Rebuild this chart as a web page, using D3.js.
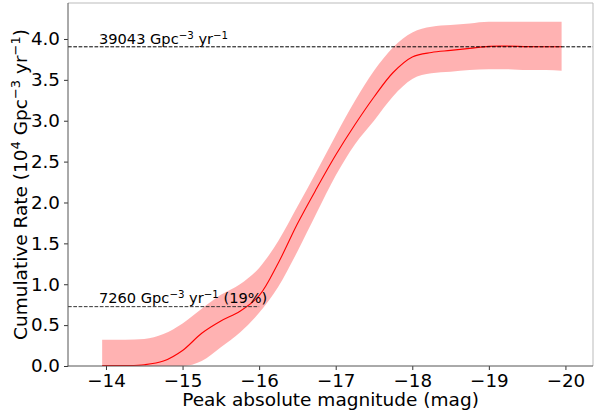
<!DOCTYPE html>
<html>
<head>
<meta charset="utf-8">
<script src="https://cdn.jsdelivr.net/npm/d3@7"></script>
<style>
  html, body { margin: 0; padding: 0; background: #fff; }
  svg { display: block; }
  text { font-family: "DejaVu Sans", sans-serif; fill: #000; }
</style>
</head>
<body>
<svg id="chart" width="594" height="417"></svg>
<script>
// ---- data ----
const mags   = [-13.95, -14.25, -14.5, -14.75, -15.0, -15.25, -15.5, -15.75, -16.0, -16.25, -16.5, -16.75, -17.0, -17.25, -17.5, -17.75, -18.0, -18.25, -18.5, -18.75, -19.0, -19.25, -19.5, -19.75, -19.95];
const median = [0.005, 0.005, 0.015, 0.06, 0.19, 0.40, 0.55, 0.67, 0.86, 1.26, 1.74, 2.17, 2.58, 2.95, 3.29, 3.59, 3.78, 3.835, 3.86, 3.885, 3.91, 3.912, 3.906, 3.905, 3.904];
const upper  = [0.32, 0.32, 0.33, 0.39, 0.52, 0.70, 0.87, 1.00, 1.20, 1.53, 1.95, 2.38, 2.82, 3.24, 3.61, 3.90, 4.08, 4.15, 4.17, 4.19, 4.21, 4.21, 4.21, 4.21, 4.21];
const lower  = [0, 0, 0, 0, 0, 0.06, 0.23, 0.41, 0.65, 0.97, 1.40, 1.87, 2.33, 2.71, 3.00, 3.30, 3.51, 3.58, 3.60, 3.62, 3.63, 3.63, 3.62, 3.62, 3.61];
const xTicks = [-14, -15, -16, -17, -18, -19, -20];
const yTicks = [0.0, 0.5, 1.0, 1.5, 2.0, 2.5, 3.0, 3.5, 4.0];
const totalRate = 3.9043;     // 39043 Gpc^-3 yr^-1
const partRate = 0.726;       // 7260 Gpc^-3 yr^-1
const partEdge = -16.0;
const totalLabel = ["39043 Gpc", "−3", " yr", "−1", ""];
const partLabel  = ["7260 Gpc", "−3", " yr", "−1", " (19%)"];

// ---- layout ----
const svg = d3.select("#chart");
const pL = 68, pR = 593, pT = 3, pB = 366;
const x = d3.scaleLinear().domain([-13.504, -20.36]).range([pL, pR]);
const y = d3.scaleLinear().domain([0, 4.44]).range([pB, pT]);
const minus = s => s.replace("-", "−");

svg.append("defs").append("clipPath").attr("id", "plotclip")
  .append("rect").attr("x", pL).attr("y", pT).attr("width", pR - pL).attr("height", pB - pT);
const plot = svg.append("g").attr("clip-path", "url(#plotclip)");

// band
const area = d3.area()
  .x((d, i) => x(mags[i]))
  .y0((d, i) => y(lower[i]))
  .y1((d, i) => y(upper[i]))
  .curve(d3.curveMonotoneX);
plot.append("path").datum(mags).attr("d", area)
  .attr("fill", "red").attr("fill-opacity", 0.3).attr("stroke", "none");

// median line
const line = d3.line()
  .x((d, i) => x(mags[i]))
  .y((d, i) => y(median[i]))
  .curve(d3.curveCatmullRom.alpha(0.5));
plot.append("path").datum(mags).attr("d", line)
  .attr("fill", "none").attr("stroke", "red").attr("stroke-width", 1.1);

// dashed reference lines
svg.append("line")
  .attr("x1", pL).attr("x2", pR)
  .attr("y1", y(totalRate)).attr("y2", y(totalRate))
  .attr("stroke", "#000").attr("stroke-width", 1).attr("stroke-dasharray", "3.7,1.6");
svg.append("line")
  .attr("x1", pL).attr("x2", x(partEdge))
  .attr("y1", y(partRate)).attr("y2", y(partRate))
  .attr("stroke", "#333").attr("stroke-width", 1).attr("stroke-dasharray", "3.7,1.6");

function supText(g, parts, xx, yy, size) {
  const t = g.append("text").attr("x", xx).attr("y", yy).attr("font-size", size);
  parts.forEach((p, i) => {
    if (!p) return;
    const s = t.append("tspan").text(p);
    if (i % 2 === 1) s.attr("font-size", size * 0.7).attr("baseline-shift", "super");
  });
  return t;
}
supText(svg, totalLabel, 99, 44, 14.6);
supText(svg, partLabel, 99, 303, 14.6);

// axes
const xAxis = d3.axisBottom(x).tickValues(xTicks).tickSize(4).tickPadding(4)
  .tickFormat(d => minus(String(d)));
const gx = svg.append("g").attr("transform", `translate(0,${pB})`).call(xAxis);
gx.select(".domain").remove();
gx.selectAll(".tick line").attr("stroke", "#333");
gx.selectAll(".tick text").attr("font-size", 18.3).attr("font-family", "DejaVu Sans").attr("fill", "#000");

const yAxis = d3.axisLeft(y).tickValues(yTicks).tickSize(4).tickPadding(4)
  .tickFormat(d3.format(".1f"));
const gy = svg.append("g").attr("transform", `translate(${pL},0)`).call(yAxis);
gy.select(".domain").remove();
gy.selectAll(".tick line").attr("stroke", "#333");
gy.selectAll(".tick text").attr("font-size", 18.3).attr("font-family", "DejaVu Sans").attr("fill", "#000");

// spines
svg.append("line").attr("x1", pL).attr("x2", pR).attr("y1", pT).attr("y2", pT)
  .attr("stroke", "#bbb").attr("stroke-width", 1);
svg.append("line").attr("x1", pR).attr("x2", pR).attr("y1", pT).attr("y2", pB)
  .attr("stroke", "#bbb").attr("stroke-width", 1);
svg.append("line").attr("x1", pL).attr("x2", pL).attr("y1", pT).attr("y2", pB + 0.5)
  .attr("stroke", "#555").attr("stroke-width", 1);
svg.append("line").attr("x1", pL - 0.5).attr("x2", pR).attr("y1", pB).attr("y2", pB)
  .attr("stroke", "#555").attr("stroke-width", 1);

// axis labels
svg.append("text").attr("x", (pL + pR) / 2).attr("y", 406)
  .attr("text-anchor", "middle").attr("font-size", 18.5)
  .text("Peak absolute magnitude (mag)");

const yl = svg.append("text")
  .attr("transform", `translate(27,${(pT + pB) / 2}) rotate(-90)`)
  .attr("text-anchor", "middle").attr("font-size", 18.5);
const ylParts = ["Cumulative Rate (10", "4", " Gpc", "−3", " yr", "−1", ")"];
ylParts.forEach((p, i) => {
  const s = yl.append("tspan").text(p);
  if (i % 2 === 1) s.attr("font-size", 13).attr("baseline-shift", "super");
});
</script>
</body>
</html>
